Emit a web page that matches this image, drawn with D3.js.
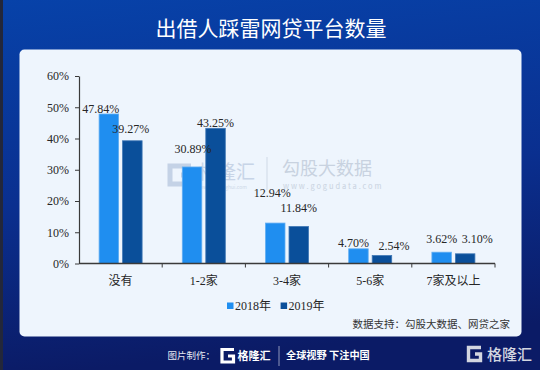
<!DOCTYPE html>
<html>
<head>
<meta charset="utf-8">
<script src="https://cdn.jsdelivr.net/npm/d3@7"></script>
<style>
  html, body { margin: 0; padding: 0; background: #0a2a86; }
  svg { display: block; }
</style>
</head>
<body>
<svg id="chart" width="540" height="370"></svg>
<script>
// data
const categories = ['没有', '1-2家', '3-4家', '5-6家', '7家及以上'];
const series = ['2018年', '2019年'];
const values2018 = [47.84, 30.89, 12.94, 4.70, 3.62];
const values2019 = [39.27, 43.25, 11.84, 2.54, 3.10];
const yTicks = [0, 10, 20, 30, 40, 50, 60];

// label nudges (dx, dy from bar top) – the original labels were hand placed
const nudge2018 = [[-8, -1], [1, -14], [-3, -26], [-5, -1.5], [0, -9.5]];
const nudge2019 = [[-1.5, -8], [0, -1.5], [0, -15], [12, -6], [12, -11]];

const colors = { '2018年': '#1f8ef0', '2019年': '#0a4f9a' };
const edges = { '2018年': '#62aef2', '2019年': '#3f77b5' };
const serif = "'Times New Roman', 'Liberation Serif', 'DejaVu Serif', 'Noto Sans CJK SC', serif";
const sans = "'Noto Sans CJK SC', 'Noto Sans', sans-serif";

var svg = d3.select('#chart');

// background
var defs = svg.append('defs');
var bg = defs.append('linearGradient')
  .attr('id', 'bg')
  .attr('x1', 0).attr('y1', 0).attr('x2', 0.15).attr('y2', 1);
bg.append('stop').attr('offset', 0).attr('stop-color', '#0742a9');
bg.append('stop').attr('offset', 0.55).attr('stop-color', '#0a2f8f');
bg.append('stop').attr('offset', 1).attr('stop-color', '#0b1b66');

svg.append('rect').attr('width', 540).attr('height', 370).attr('fill', 'url(#bg)');
svg.append('rect').attr('width', 3).attr('height', 370).attr('fill', '#23273a');

svg.append('text')
  .attr('x', 271).attr('y', 36)
  .attr('text-anchor', 'middle')
  .attr('fill', '#ffffff')
  .style('font-family', sans)
  .style('font-size', '21px')
  .style('font-weight', 400)
  .text('出借人踩雷网贷平台数量');

// panel
svg.append('rect')
  .attr('x', 19.5).attr('y', 49.5)
  .attr('width', 502).attr('height', 287)
  .attr('rx', 5)
  .attr('fill', '#eef5fd');

// watermarks (behind the bars)
var wm = svg.append('g').attr('class', 'watermark');
wm.append('path')
  .attr('d', 'M191,166 H170 V184 H190 V175 H181')
  .attr('fill', 'none')
  .attr('stroke', '#c4d2e6')
  .attr('stroke-width', 5);
wm.append('text')
  .attr('x', 198).attr('y', 179)
  .attr('fill', '#c7d4e7')
  .style('font-family', sans).style('font-size', '19px')
  .text('格隆汇');
wm.append('text')
  .attr('x', 199).attr('y', 189)
  .attr('fill', '#cdd8e8')
  .style('font-family', sans).style('font-size', '5px')
  .text('www.gelonghui.com');
wm.append('line')
  .attr('x1', 267).attr('x2', 267).attr('y1', 157).attr('y2', 190)
  .attr('stroke', '#cfd9e6');
wm.append('text')
  .attr('x', 282).attr('y', 175)
  .attr('fill', '#c8d2e0')
  .style('font-family', sans).style('font-size', '18px')
  .text('勾股大数据');
wm.append('text')
  .attr('x', 283).attr('y', 189)
  .attr('fill', '#c8d2e0')
  .style('font-family', sans).style('font-size', '7.5px')
  .style('letter-spacing', '1.9px')
  .text('www.gogudata.com');

// scales
var x0 = d3.scaleBand().domain(categories).range([79, 495]).paddingInner(0).paddingOuter(0);
var x1 = d3.scaleBand().domain(series).range([0, x0.bandwidth()])
  .paddingInner(0.17).paddingOuter(0.855);
var y = d3.scaleLinear().domain([0, 60]).range([263.5, 76]);

var rows = categories.map((c, i) => ({
  cat: c,
  vals: [
    { s: series[0], v: values2018[i], n: nudge2018[i] },
    { s: series[1], v: values2019[i], n: nudge2019[i] }
  ]
}));

// y axis
var yAxis = svg.append('g')
  .attr('transform', 'translate(79,0)')
  .call(d3.axisLeft(y).tickValues(yTicks).tickSize(4).tickSizeOuter(0)
    .tickPadding(6).tickFormat(d => d + '%'));
yAxis.attr('font-family', null);
yAxis.select('.domain').attr('stroke', '#3a3a3a').attr('stroke-width', 1.2);
yAxis.selectAll('.tick line').attr('stroke', '#3a3a3a');
yAxis.selectAll('.tick text')
  .attr('fill', '#262626')
  .style('font-family', serif)
  .style('font-size', '12px');

// bars
var groups = svg.append('g').selectAll('g')
  .data(rows).join('g')
  .attr('transform', d => `translate(${x0(d.cat)},0)`);

groups.selectAll('rect')
  .data(d => d.vals).join('rect')
  .attr('x', d => x1(d.s))
  .attr('y', d => y(d.v))
  .attr('width', x1.bandwidth())
  .attr('height', d => y(0) - y(d.v))
  .attr('fill', d => colors[d.s])
  .attr('stroke', d => edges[d.s])
  .attr('stroke-width', 0.8);

groups.selectAll('text')
  .data(d => d.vals).join('text')
  .attr('x', d => x1(d.s) + x1.bandwidth() / 2 + d.n[0])
  .attr('y', d => y(d.v) + d.n[1])
  .attr('text-anchor', 'middle')
  .attr('fill', '#262626')
  .style('font-family', serif)
  .style('font-size', '12px')
  .text(d => d.v.toFixed(2) + '%');

// x axis
var xAxis = svg.append('g');
xAxis.append('line')
  .attr('x1', 79).attr('x2', 495)
  .attr('y1', y(0)).attr('y2', y(0))
  .attr('stroke', '#3a3a3a').attr('stroke-width', 1.4);
xAxis.selectAll('.xt')
  .data(categories).join('line')
  .attr('class', 'xt')
  .attr('x1', d => x0(d) + x0.step()).attr('x2', d => x0(d) + x0.step())
  .attr('y1', y(0)).attr('y2', y(0) + 4)
  .attr('stroke', '#3a3a3a');
xAxis.selectAll('.xl')
  .data(categories).join('text')
  .attr('class', 'xl')
  .attr('x', d => x0(d) + x0.bandwidth() / 2)
  .attr('y', 284.5)
  .attr('text-anchor', 'middle')
  .attr('fill', '#262626')
  .style('font-family', serif)
  .style('font-size', '12px')
  .text(d => d);

// legend
var legend = svg.append('g').selectAll('g')
  .data(series).join('g')
  .attr('transform', (d, i) => `translate(${227 + i * 53.6},306)`);
legend.append('rect')
  .attr('x', 0).attr('y', -3.5)
  .attr('width', 6.5).attr('height', 6.5)
  .attr('fill', d => colors[d]);
legend.append('text')
  .attr('x', 8).attr('y', 4.2)
  .attr('fill', '#262626')
  .style('font-family', serif)
  .style('font-size', '12px')
  .text(d => d);

// source
svg.append('text')
  .attr('x', 510).attr('y', 327.5)
  .attr('text-anchor', 'end')
  .attr('fill', '#333333')
  .style('font-family', sans)
  .style('font-size', '10.5px')
  .text('数据支持：勾股大数据、网贷之家');

// footer
var foot = svg.append('g').style('font-family', sans);
foot.append('text')
  .attr('x', 167.5).attr('y', 359)
  .attr('fill', '#e6e9f2')
  .style('font-size', '9.5px')
  .text('图片制作：');
foot.append('path')
  .attr('d', 'M234,349.5 H222 V362 H233.5 V356 H228')
  .attr('fill', 'none')
  .attr('stroke', '#ffffff')
  .attr('stroke-width', 3.2);
foot.append('text')
  .attr('x', 237.5).attr('y', 359.5)
  .attr('fill', '#ffffff')
  .style('font-size', '11px')
  .style('font-weight', 700)
  .text('格隆汇');
foot.append('line')
  .attr('x1', 279).attr('x2', 279).attr('y1', 346).attr('y2', 366)
  .attr('stroke', '#c8cde0').attr('stroke-width', 0.7);
foot.append('text')
  .attr('x', 286).attr('y', 359)
  .attr('fill', '#ffffff')
  .style('font-size', '10.2px')
  .style('font-weight', 700)
  .text('全球视野 下注中国');
foot.append('path')
  .attr('d', 'M481,347.5 H468.5 V360.5 H480.5 V354 H475')
  .attr('fill', 'none')
  .attr('stroke', '#d3d6e0')
  .attr('stroke-width', 3.4);
foot.append('text')
  .attr('x', 487).attr('y', 360)
  .attr('fill', '#d3d6e0')
  .style('font-size', '15px')
  .style('font-weight', 500)
  .text('格隆汇');
</script>
</body>
</html>
